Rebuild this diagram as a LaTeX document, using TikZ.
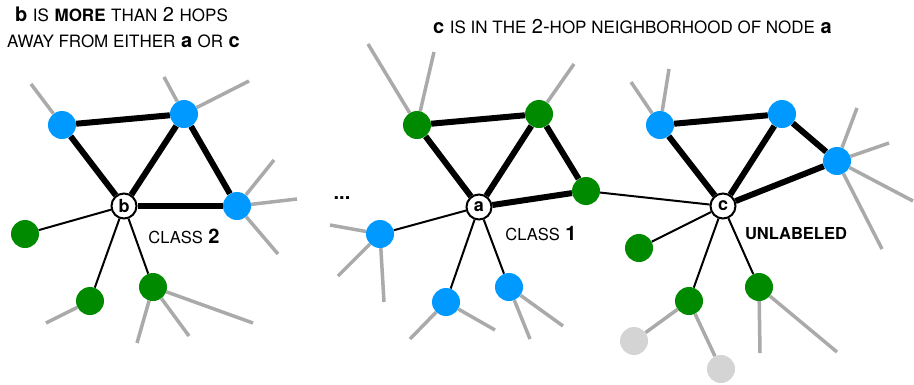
\documentclass[tikz,border=0pt]{standalone}
\usepackage{fontspec}
\setmainfont{TeX Gyre Heros}
\newcommand\smc[1]{{\fontsize{17}{17}\selectfont #1}}
\newcommand\lsmc[1]{{\fontsize{16.5}{16.5}\selectfont #1}}
\definecolor{nblue}{HTML}{0099FF}
\definecolor{ngreen}{HTML}{008A00}
\definecolor{ngray}{HTML}{AAAAAA}
\definecolor{nlight}{HTML}{D4D4D4}
\pgfdeclarelayer{bg}
\pgfsetlayers{bg,main}
\begin{document}
\begin{tikzpicture}[x=1pt,y=-1pt,
  dot/.style={circle,inner sep=0pt,minimum size=28pt},
  bnode/.style={dot,fill=nblue},
  gnode/.style={dot,fill=ngreen},
  lnode/.style={dot,fill=nlight},
  cnode/.style={circle,draw=black,line width=2pt,fill=white,inner sep=0pt,minimum size=25pt,font=\bfseries\fontsize{18}{18}\selectfont},
  strong/.style={line width=6pt},
  weak/.style={line width=2pt},
  spoke/.style={ngray,line width=3.5pt},
  txt/.style={inner sep=0pt,font=\fontsize{20}{20}\selectfont}]
\useasboundingbox (0,0) rectangle (914,384);
% titles
\node[txt,anchor=base west] (t1) at (15,21) {\textbf{b} \smc{IS} \smc{\textbf{MORE}} \smc{THAN} 2 \smc{HOPS}};
\node[txt,anchor=base west] (t2) at (7,47) {\smc{AWAY FROM EITHER} \textbf{a} \smc{OR} \textbf{c}};
\node[txt,anchor=base west] (t3) at (433,33) {\textbf{c} \smc{IS IN THE} 2-\smc{HOP NEIGHBORHOOD OF NODE} \textbf{a}};
% left graph
\node[cnode] (b) at (124,206) {b};
\node[bnode] (lb1) at (62,125) {};
\node[bnode] (lb2) at (184,114) {};
\node[bnode] (lb3) at (237,206) {};
\node[gnode] (lg1) at (25,234) {};
\node[gnode] (lg2) at (90,301) {};
\node[gnode] (lg3) at (153,287) {};
\coordinate (ls1) at (31,84);
\coordinate (ls2) at (164,77);
\coordinate (ls3) at (249,81);
\coordinate (ls4) at (274,160);
\coordinate (ls5) at (297,199);
\coordinate (ls6) at (278,254);
\coordinate (ls7) at (46,323);
\coordinate (ls8) at (137,343);
\coordinate (ls9) at (189,336);
\coordinate (ls10) at (253,323);
\node[txt,anchor=base] (cl2) at (184,243) {\lsmc{CLASS} \textbf{2}};
% middle graph
\node[cnode] (a) at (479,207) {a};
\node[gnode] (mg1) at (417,125) {};
\node[gnode] (mg2) at (539,114) {};
\node[gnode] (mg3) at (586,191) {};
\node[bnode] (mb1) at (380,234) {};
\node[bnode] (mb2) at (446,302) {};
\node[bnode] (mb3) at (509,287) {};
\coordinate (ms1) at (368,44);
\coordinate (ms2) at (434,52);
\coordinate (ms3) at (574,64);
\coordinate (ms4) at (330,225);
\coordinate (ms5) at (338,276);
\coordinate (ms6) at (384,302);
\coordinate (ms7) at (410,339);
\coordinate (ms8) at (495,330);
\coordinate (ms9) at (530,339);
\coordinate (ms10) at (563,326);
\node[txt,anchor=base,font=\bfseries\fontsize{20}{20}\selectfont] (dots) at (342,199) {...};
\node[txt,anchor=base] (cl1) at (541,240) {\lsmc{CLASS} \textbf{1}};
% right graph
\node[cnode] (c) at (723,206) {c};
\node[bnode] (rb1) at (660,125) {};
\node[bnode] (rb2) at (782,114) {};
\node[bnode] (rb3) at (837,161) {};
\node[gnode] (rg1) at (639,248) {};
\node[gnode] (rg2) at (689,301) {};
\node[gnode] (rg3) at (759,287) {};
\node[lnode] (rl1) at (634,341) {};
\node[lnode] (rl2) at (721,369) {};
\coordinate (rs1) at (631,82);
\coordinate (rs2) at (669,69);
\coordinate (rs3) at (857,108);
\coordinate (rs4) at (889,143);
\coordinate (rs5) at (913,201);
\coordinate (rs6) at (882,249);
\coordinate (rs7) at (760,353);
\coordinate (rs8) at (837,352);
\node[txt,anchor=base] (unl) at (796,239) {\lsmc{\textbf{UNLABELED}}};
\begin{pgfonlayer}{bg}
  % spokes
  \draw[spoke] (lb1) -- (ls1);
  \draw[spoke] (lb2) -- (ls2);
  \draw[spoke] (lb2) -- (ls3);
  \draw[spoke] (lb3) -- (ls4);
  \draw[spoke] (lb3) -- (ls5);
  \draw[spoke] (lb3) -- (ls6);
  \draw[spoke] (lg2) -- (ls7);
  \draw[spoke] (lg3) -- (ls8);
  \draw[spoke] (lg3) -- (ls9);
  \draw[spoke] (lg3) -- (ls10);
  \draw[spoke] (mg1) -- (ms1);
  \draw[spoke] (mg1) -- (ms2);
  \draw[spoke] (mg2) -- (ms3);
  \draw[spoke] (mb1) -- (ms4);
  \draw[spoke] (mb1) -- (ms5);
  \draw[spoke] (mb1) -- (ms6);
  \draw[spoke] (mb2) -- (ms7);
  \draw[spoke] (mb2) -- (ms8);
  \draw[spoke] (mb3) -- (ms9);
  \draw[spoke] (mb3) -- (ms10);
  \draw[spoke] (rb1) -- (rs1);
  \draw[spoke] (rb1) -- (rs2);
  \draw[spoke] (rb3) -- (rs3);
  \draw[spoke] (rb3) -- (rs4);
  \draw[spoke] (rb3) -- (rs5);
  \draw[spoke] (rb3) -- (rs6);
  \draw[spoke] (rg2) -- (rl1);
  \draw[spoke] (rg2) -- (rl2);
  \draw[spoke] (rg3) -- (rs7);
  \draw[spoke] (rg3) -- (rs8);
  % left edges
  \draw[strong] (b) -- (lb1);
  \draw[strong] (b) -- (lb2);
  \draw[strong] (b) -- (lb3);
  \draw[strong] (lb1) -- (lb2);
  \draw[strong] (lb2) -- (lb3);
  \draw[weak] (b) -- (lg1);
  \draw[weak] (b) -- (lg2);
  \draw[weak] (b) -- (lg3);
  % middle edges
  \draw[strong] (a) -- (mg1);
  \draw[strong] (a) -- (mg2);
  \draw[strong] (a) -- (mg3);
  \draw[strong] (mg1) -- (mg2);
  \draw[strong] (mg2) -- (mg3);
  \draw[weak] (a) -- (mb1);
  \draw[weak] (a) -- (mb2);
  \draw[weak] (a) -- (mb3);
  \draw[weak] (mg3) -- (c);
  % right edges
  \draw[strong] (c) -- (rb1);
  \draw[strong] (c) -- (rb2);
  \draw[strong] (c) -- (rb3);
  \draw[strong] (rb1) -- (rb2);
  \draw[strong] (rb2) -- (rb3);
  \draw[weak] (c) -- (rg1);
  \draw[weak] (c) -- (rg2);
  \draw[weak] (c) -- (rg3);
\end{pgfonlayer}
\end{tikzpicture}
\end{document}
